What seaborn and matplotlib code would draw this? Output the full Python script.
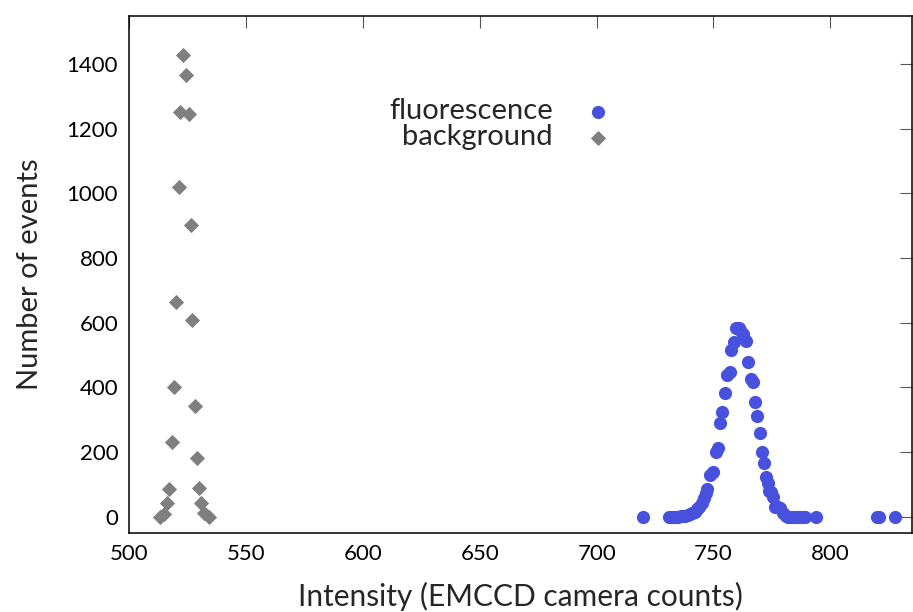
import matplotlib
matplotlib.use("Agg")
import matplotlib.pyplot as plt
import seaborn as sns
import pandas as pd

# Background histogram (intensity, number of events)
bg_x = [513.0, 515.0, 516.2, 517.2, 518.1, 519.1, 520.1, 521.1, 521.6, 523.1,
        524.1, 525.5, 526.2, 527.0, 528.0, 529.1, 530.0, 530.7, 532.0, 534.0]
bg_y = [0, 8, 41, 86, 230, 401, 664, 1020, 1253, 1429,
        1368, 1246, 901, 607, 342, 180, 88, 41, 10, 0]

# Fluorescence histogram
fl_x = [720.0, 731.0, 732.0, 733.0, 734.0, 735.0, 736.0, 737.0, 738.0, 739.0,
        740.0, 741.0, 742.0, 743.0, 744.0, 745.0, 746.0, 746.7, 747.3, 748.7,
        749.8, 751.0, 752.0, 752.7, 753.8, 754.8, 755.8, 757.0, 757.7, 758.7,
        759.8, 760.8, 761.5, 762.6, 763.8, 764.8, 765.9, 766.9, 767.6, 768.6,
        769.8, 770.8, 771.6, 772.6, 773.3, 773.8, 774.5, 775.5, 776.5, 777.5,
        778.3, 779.7, 781.0, 782.0, 783.0, 784.0, 785.0, 786.0, 787.0, 788.0,
        789.0, 794.0, 820.0, 821.0, 827.5]
fl_y = [0, 0, 0, 0, 0, 0, 2, 1, 3, 5,
        8, 10, 15, 22, 30, 42, 58, 72, 85, 129,
        139, 201, 211, 291, 324, 383, 437, 448, 515, 540,
        582, 585, 576, 566, 543, 477, 425, 417, 355, 312,
        259, 201, 167, 123, 103, 80, 77, 60, 31, 28,
        26, 10, 3, 0, 0, 0, 0, 0, 0, 0,
        0, 0, 0, 0, 0]

x_ticks = [500, 550, 600, 650, 700, 750, 800]
y_ticks = [0, 200, 400, 600, 800, 1000, 1200, 1400]

sns.set_theme(style="white")
plt.rcParams["font.family"] = ["Lato", "DejaVu Sans"]

fig = plt.figure(figsize=(9.13, 6.12), dpi=100)
ax = fig.add_axes([0.1416, 0.1296, 0.8574, 0.8447])

df_fl = pd.DataFrame({"x": fl_x, "y": fl_y})
df_bg = pd.DataFrame({"x": bg_x, "y": bg_y})

sns.scatterplot(data=df_fl, x="x", y="y", ax=ax, color="#4751DE", marker="o",
                s=90, linewidth=0, label="fluorescence")
sns.scatterplot(data=df_bg, x="x", y="y", ax=ax, color="#7F7F7F", marker="D",
                s=60, linewidth=0, label="background")

ax.set_xlim(500, 835)
ax.set_ylim(-50, 1550)
ax.set_xticks(x_ticks)
ax.set_yticks(y_ticks)
ax.tick_params(direction="in", top=True, right=True, length=8.5, width=0.8,
               labelsize=16, colors="#555555", labelcolor="black", pad=8)
for sp in ax.spines.values():
    sp.set_color("black")
    sp.set_linewidth(1.1)

ax.set_xlabel("Intensity (EMCCD camera counts)", fontsize=21.5, labelpad=13)
ax.set_ylabel("Number of events", fontsize=21, labelpad=17)

leg = ax.legend(loc="upper right", bbox_to_anchor=(0.687, 0.863),
                bbox_transform=fig.transFigure, frameon=False,
                markerfirst=False, fontsize=21, handlelength=1.0,
                handletextpad=1.05, labelspacing=0.0, borderpad=0)

fig.savefig("out.png", dpi=100)
